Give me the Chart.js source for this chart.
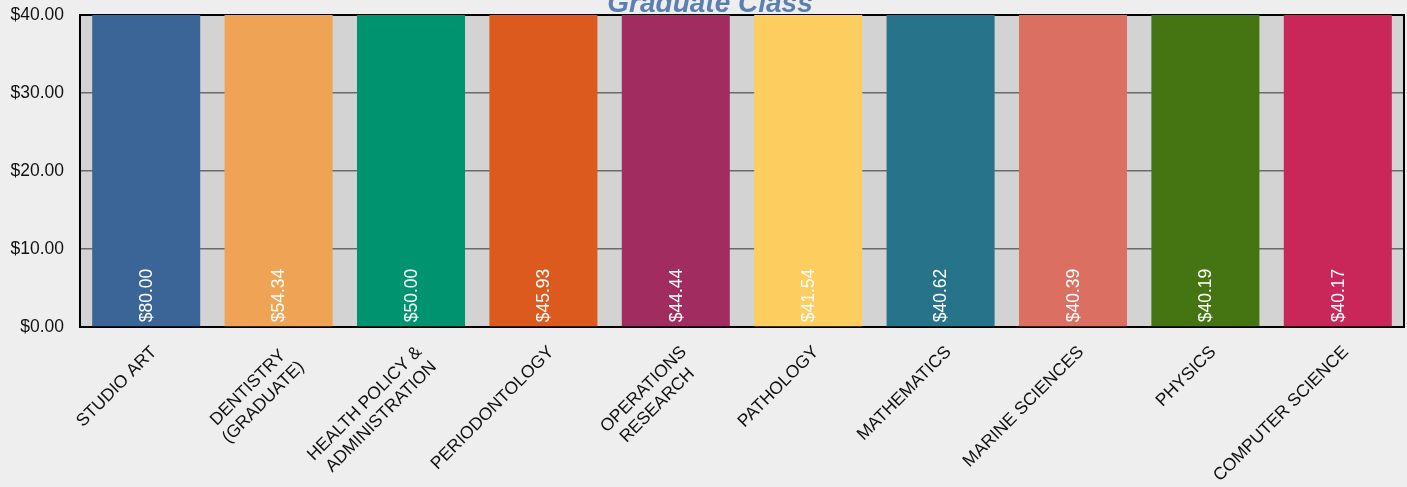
<!DOCTYPE html>
<html>
<head>
<meta charset="utf-8">
<title>Graduate Class</title>
<script src="https://cdn.jsdelivr.net/npm/chart.js@4.4.0/dist/chart.umd.min.js"></script>
<style>
    html, body { margin: 0; padding: 0; background: #eeeeee; }
    #wrap { width: 1407px; height: 487px; position: relative; }
</style>
</head>
<body>
<div id="wrap"><canvas id="grafic"></canvas></div>
<script>
// Chart data
const chartTitle = 'Graduate Class';
const categories = [
    'STUDIO ART',
    ['DENTISTRY ', '(GRADUATE)'],
    ['HEALTH POLICY &', 'ADMINISTRATION'],
    'PERIODONTOLOGY',
    ['OPERATIONS', 'RESEARCH  '],
    'PATHOLOGY',
    'MATHEMATICS',
    'MARINE SCIENCES',
    'PHYSICS',
    'COMPUTER SCIENCE'
];
const values = [80.00, 54.34, 50.00, 45.93, 44.44, 41.54, 40.62, 40.39, 40.19, 40.17];
const barColors = ['#3a6596', '#efa354', '#00936f', '#dd5a1f', '#a12c60',
    '#fdcd60', '#27738a', '#db7062', '#457513', '#c9275a'];
const yTicks = [0, 10, 20, 30, 40];

const fontFamily = "Arial, 'Liberation Sans', sans-serif";
const money = v => '$' + Number(v).toFixed(2);

// Plot background, top/right frame and the (cut off) title
const plotFrame = {
    id: 'plotFrame',
    beforeDraw(chart) {
        const { ctx, chartArea: a } = chart;
        ctx.save();
        ctx.fillStyle = '#d3d3d3';
        ctx.fillRect(a.left, a.top, a.right - a.left, a.bottom - a.top);
        ctx.restore();
    },
    beforeDatasetsDraw(chart) {
        const { ctx, chartArea: a } = chart;
        ctx.save();
        ctx.strokeStyle = '#000';
        ctx.lineWidth = 2;
        ctx.beginPath();
        ctx.moveTo(a.left, a.top);
        ctx.lineTo(a.right, a.top);
        ctx.lineTo(a.right, a.bottom);
        ctx.stroke();
        ctx.restore();
    },
    afterDraw(chart) {
        const { ctx } = chart;
        ctx.save();
        ctx.fillStyle = '#5a7fb0';
        ctx.font = 'italic bold 28px ' + fontFamily;
        ctx.textAlign = 'center';
        ctx.textBaseline = 'alphabetic';
        ctx.fillText(chartTitle, 710, 12);
        ctx.restore();
    }
};

// Vertical value labels inside the bars
const barLabels = {
    id: 'barLabels',
    afterDatasetsDraw(chart) {
        const { ctx } = chart;
        const meta = chart.getDatasetMeta(0);
        ctx.save();
        ctx.fillStyle = '#ffffff';
        ctx.font = '17.5px ' + fontFamily;
        ctx.textAlign = 'left';
        ctx.textBaseline = 'middle';
        meta.data.forEach((bar, i) => {
            ctx.save();
            ctx.translate(bar.x, bar.base - 4);
            ctx.rotate(-Math.PI / 2);
            ctx.fillText(money(values[i]), 0, 1);
            ctx.restore();
        });
        ctx.restore();
    }
};

document.addEventListener('DOMContentLoaded', () => {
    const ctx = document.getElementById('grafic');
    new Chart(ctx, {
        type: 'bar',
        data: {
            labels: categories,
            datasets: [{
                data: values,
                backgroundColor: barColors,
                borderWidth: 0,
                categoryPercentage: 1,
                barPercentage: 0.816
            }]
        },
        options: {
            responsive: true,
            maintainAspectRatio: false,
            animation: false,
            layout: { padding: { left: 10, right: 3, top: 15, bottom: 0 } },
            plugins: {
                legend: { display: false },
                tooltip: { enabled: false },
                title: { display: false }
            },
            scales: {
                x: {
                    grid: { display: false, drawTicks: false },
                    border: { color: '#000', width: 2 },
                    afterFit: axis => {
                        axis.paddingLeft = 0;
                        axis.paddingRight = 0;
                        axis.height = 160;
                    },
                    ticks: {
                        color: '#111',
                        font: { family: fontFamily, size: 17.5 },
                        maxRotation: 45,
                        minRotation: 45,
                        autoSkip: false,
                        padding: 15,
                        labelOffset: 8
                    }
                },
                y: {
                    min: 0,
                    max: 40,
                    afterBuildTicks: axis => { axis.ticks = yTicks.map(v => ({ value: v })); },
                    afterFit: axis => {
                        axis.width = 70;
                        axis.paddingTop = 0;
                        axis.paddingBottom = 0;
                    },
                    grid: { color: '#6a6a6a', lineWidth: 1.5, drawTicks: false },
                    border: { color: '#000', width: 2 },
                    ticks: {
                        color: '#111',
                        font: { family: fontFamily, size: 17.5 },
                        padding: 16,
                        callback: v => money(v)
                    }
                }
            }
        },
        plugins: [plotFrame, barLabels]
    });
});
</script>
</body>
</html>
